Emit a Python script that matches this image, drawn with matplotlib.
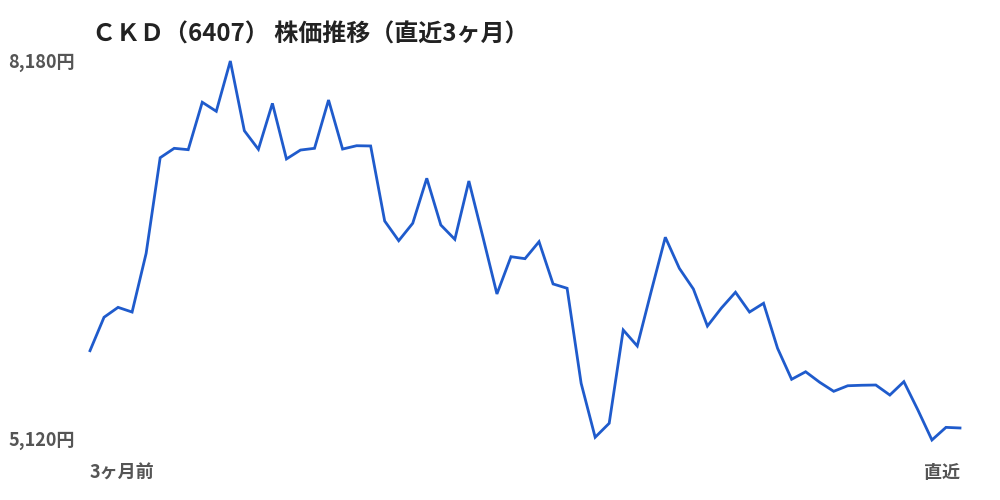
import matplotlib
matplotlib.use("Agg")
import matplotlib.pyplot as plt

plt.rcParams['font.family'] = ['Noto Sans CJK JP', 'DejaVu Sans']

# 終値（直近3ヶ月、チャートから読み取り）
prices = [5841, 6111, 6191, 6153, 6627, 7399, 7475, 7464, 7847, 7774,
          8180, 7617, 7467, 7838, 7389, 7461, 7475, 7865, 7469, 7496,
          7494, 6888, 6729, 6870, 7233, 6856, 6740, 7211, 6759, 6299,
          6600, 6584, 6721, 6380, 6345, 5578, 5142, 5255, 6008, 5879,
          6323, 6757, 6506, 6339, 6040, 6186, 6313, 6153, 6224, 5860,
          5610, 5671, 5586, 5513, 5558, 5562, 5564, 5483, 5591, 5362,
          5120, 5222, 5217]
title = "ＣＫＤ（6407） 株価推移（直近3ヶ月）"
y_labels = ["8,180円", "5,120円"]
x_labels = ["3ヶ月前", "直近"]

ymax = max(prices)
ymin = min(prices)

fig = plt.figure(figsize=(10, 5), dpi=100)
ax = fig.add_axes([0.09, 0.12, 0.87, 0.758])
ax.plot(range(len(prices)), prices, color="#1f5bcc", lw=2.0, clip_on=False,
        solid_joinstyle="miter")
ax.set_xlim(0, len(prices) - 1)
ax.set_ylim(ymin, ymax)
ax.axis("off")

gray = "#555555"
fig.text(0.075, 1 - 62 / 500, y_labels[0], ha="right", va="center",
         fontsize=13, fontweight="bold", color=gray)
fig.text(0.075, 1 - 441 / 500, y_labels[1], ha="right", va="center",
         fontsize=13, fontweight="bold", color=gray)
fig.text(0.09, 1 - 473 / 500, x_labels[0], ha="left", va="center",
         fontsize=13, fontweight="bold", color=gray)
fig.text(0.96, 1 - 473 / 500, x_labels[1], ha="right", va="center",
         fontsize=13, fontweight="bold", color=gray)
fig.text(0.092, 1 - 35 / 500, title, ha="left", va="center",
         fontsize=17.3, fontweight="bold", color="#222222")

fig.savefig("out.png", dpi=100)
